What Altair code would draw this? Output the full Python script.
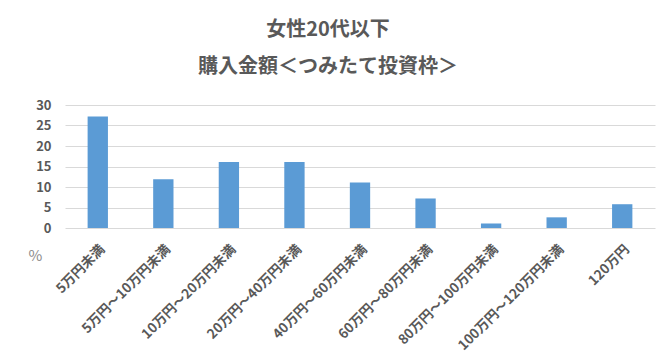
import altair as alt
import pandas as pd

categories = ["5万円未満", "5万円～10万円未満", "10万円～20万円未満", "20万円～40万円未満",
              "40万円～60万円未満", "60万円～80万円未満", "80万円～100万円未満",
              "100万円～120万円未満", "120万円"]
values = [27.2, 11.9, 16.1, 16.1, 11.1, 7.2, 1.1, 2.6, 5.8]
title_lines = ["女性20代以下", "購入金額＜つみたて投資枠＞"]
y_ticks = [0, 5, 10, 15, 20, 25, 30]

df = pd.DataFrame({"cat": categories, "val": values})
FONT = "Noto Sans CJK JP"

chart = alt.Chart(df).mark_bar(color="#5b9bd5").encode(
    x=alt.X("cat:N", sort=categories, title=None,
            scale=alt.Scale(paddingInner=0.69, paddingOuter=0.345),
            axis=alt.Axis(labelAngle=-45, labelFont=FONT, labelFontSize=13.5,
                          labelFontWeight="bold", labelColor="#595959",
                          ticks=False, domain=False, labelPadding=14,
                          labelLimit=300)),
    y=alt.Y("val:Q", title="%", scale=alt.Scale(domain=[0, 30]),
            axis=alt.Axis(values=y_ticks, labelFont=FONT, labelFontSize=13,
                          labelFontWeight="bold", labelColor="#595959",
                          ticks=False, domain=False, labelPadding=14,
                          gridColor="#d9d9d9", gridWidth=1,
                          titleAngle=0, titleX=-30, titleY=158,
                          titleFont=FONT, titleFontSize=15,
                          titleFontWeight="normal", titleColor="#8c8c8c")),
).properties(
    width=590, height=123,
    title=alt.Title(title_lines, font=FONT, fontSize=20, fontWeight="bold",
                    color="#595959", lineHeight=37, anchor="middle",
                    dx=-32, offset=22),
    autosize=alt.AutoSizeParams(type="none"),
    padding={"left": 65, "top": 105, "right": 5, "bottom": 134},
).configure_view(stroke=None)

chart.save("out.html", embed_options={"renderer": "svg", "actions": False})
